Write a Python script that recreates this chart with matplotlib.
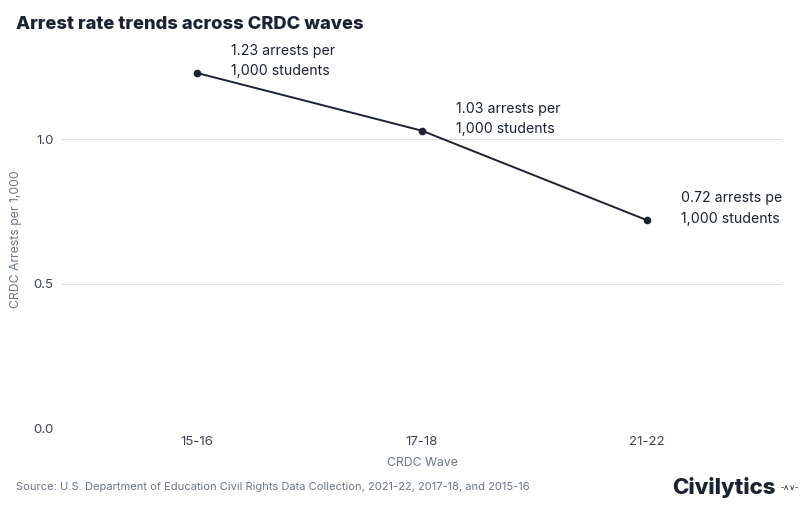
import numpy as np
import matplotlib.pyplot as plt
from matplotlib.transforms import Bbox, TransformedBbox

plt.rcParams['font.family'] = ['Inter', 'DejaVu Sans']

waves = ["15-16", "17-18", "21-22"]
rates = [1.23, 1.03, 0.72]
yticks = [0.0, 0.5, 1.0]

dark = "#1b2233"
gray = "#6b7589"

fig = plt.figure(figsize=(8, 5.09), dpi=100)
ax = fig.add_axes([0.0775, 0.159, 0.9, 0.743])
x = np.arange(len(waves))
ax.plot(x, rates, color=dark, lw=1.4, marker="o", ms=4.5, zorder=3)
clip = TransformedBbox(Bbox([[0, 0], [0.9775, 1]]), fig.transFigure)
for xi, r in zip(x, rates):
    t = ax.annotate(f"{r:.2f} arrests per\n1,000 students", (xi, r),
                    xytext=(24.5, 8.5), textcoords="offset points", fontsize=10.2,
                    color=dark, va="center", ha="left", linespacing=1.6,
                    annotation_clip=False)
    t.set_clip_box(clip)
    t.set_clip_on(True)

ax.set_xlim(-0.6, 2.6)
ax.set_ylim(0, 1.31)
ax.set_xticks(x, waves)
ax.set_yticks(yticks, [f"{v:.1f}" for v in yticks])
ax.grid(axis="y", color="#dddddd", lw=0.8)
ax.set_axisbelow(True)
for s in ax.spines.values():
    s.set_visible(False)
ax.tick_params(length=0, labelsize=9.5, colors="#3a4256", pad=6)
ax.set_xlabel("CRDC Wave", fontsize=8.8, color=gray, labelpad=6)
ax.set_ylabel("CRDC Arrests per 1,000", fontsize=8.8, color=gray, labelpad=8)

fig.text(0.02, 0.952, "Arrest rate trends across CRDC waves", fontsize=13.2,
         fontweight="heavy", color=dark, va="center")
fig.text(0.02, 0.043, "Source: U.S. Department of Education Civil Rights Data Collection, 2021-22, 2017-18, and 2015-16",
         fontsize=8, color=gray, va="center")
fig.text(0.97, 0.043, "Civilytics", fontsize=16, fontweight="heavy",
         color=dark, va="center", ha="right")
fig.text(0.998, 0.043, "-\u2227\u2228-", fontsize=6, color=dark, va="center", ha="right",
         family=["DejaVu Sans"])

fig.savefig("out.png", dpi=100, facecolor="white")
